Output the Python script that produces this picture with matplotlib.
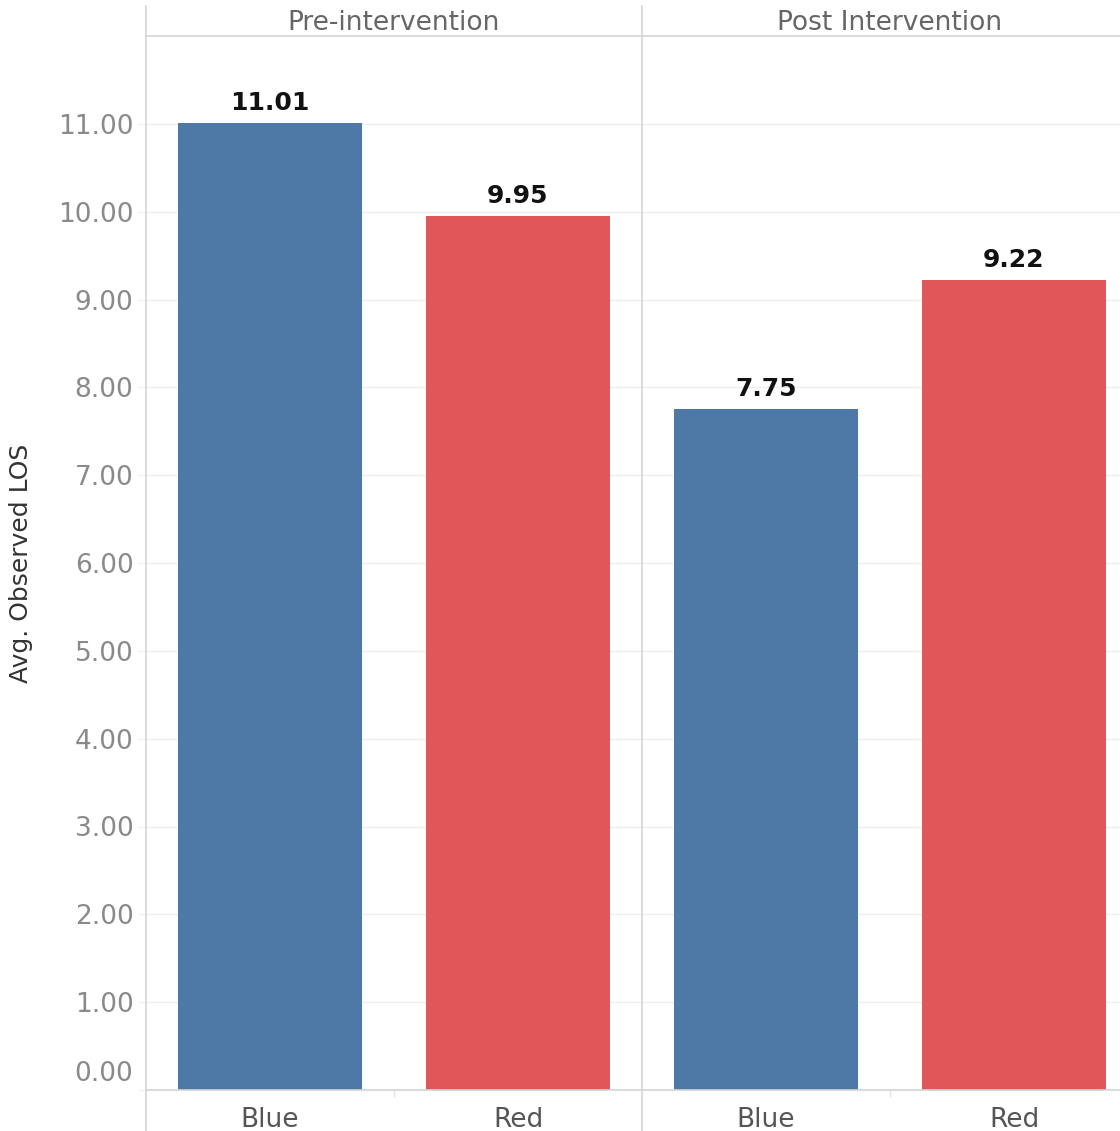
import matplotlib.pyplot as plt
from matplotlib.lines import Line2D
from matplotlib.transforms import ScaledTranslation
import numpy as np

# data
groups = ['Pre-intervention', 'Post Intervention']
categories = ['Blue', 'Red']
pre_values = [11.01, 9.95]
post_values = [7.75, 9.22]
bar_colors = ['#4e79a7', '#e15759']
yticks = np.arange(0, 12, 1)

plt.rcParams['font.family'] = 'DejaVu Sans'

W, H = 1120, 1131
fig = plt.figure(figsize=(W / 100, H / 100), dpi=100)

top, bottom = 36, 1090
left0, panel_w = 146, 496
line_col = '#d4d4d4'
grid_col = '#efefef'

x = np.arange(len(categories))
axes = []
for i, (name, vals) in enumerate(zip(groups, [pre_values, post_values])):
    left = left0 + i * panel_w
    ax = fig.add_axes([left / W, (H - bottom) / H, panel_w / W, (bottom - top) / H])
    ax.bar(x, vals, width=0.74, color=bar_colors, zorder=2)
    for xi, v in zip(x, vals):
        ax.annotate(f'{v:.2f}', (xi, v), xytext=(0, 6), textcoords='offset points',
                    ha='center', va='bottom', fontsize=18, fontweight='bold', color='#111111')
    ax.set_xlim(-0.5, 1.5)
    ax.set_ylim(0, 12)
    ax.set_yticks(yticks)
    ax.grid(axis='y', color=grid_col, linewidth=1, zorder=0)
    ax.set_xticks(x)
    ax.set_xticklabels(categories, fontsize=19, color='#555555')
    ax.tick_params(axis='x', length=0, pad=12)
    ax.set_xticks([0.5], minor=True)
    ax.tick_params(axis='x', which='minor', length=5, color='#e6e6e6', width=1)
    for s in ['left', 'right']:
        ax.spines[s].set_visible(False)
    ax.spines['top'].set_color(line_col)
    ax.spines['bottom'].set_color(line_col)
    ax.spines['top'].set_linewidth(1.2)
    ax.spines['bottom'].set_linewidth(1.2)
    if i == 0:
        ax.set_yticklabels([f'{t:.2f}' for t in yticks], fontsize=19, color='#8a8a8a')
        ax.tick_params(axis='y', length=6, color=grid_col, pad=3)
        ax.set_ylabel('Avg. Observed LOS', fontsize=18, color='#333333', labelpad=18)
        # lift the 0.00 label above the baseline like the original
        lab0 = ax.get_yticklabels()[0]
        lab0.set_transform(lab0.get_transform() + ScaledTranslation(0, 0.19, fig.dpi_scale_trans))
    else:
        ax.tick_params(axis='y', left=False, labelleft=False)
    fig.text((left + panel_w / 2) / W, 1 - 23 / H, name, ha='center', va='center',
             fontsize=19, color='#666666')
    axes.append(ax)

# panel separators
for xl in [left0, left0 + panel_w]:
    fig.add_artist(Line2D([xl / W, xl / W], [0, 1 - 6 / H], color=line_col, linewidth=1.2))

fig.savefig('out.png', dpi=100, facecolor='white')
